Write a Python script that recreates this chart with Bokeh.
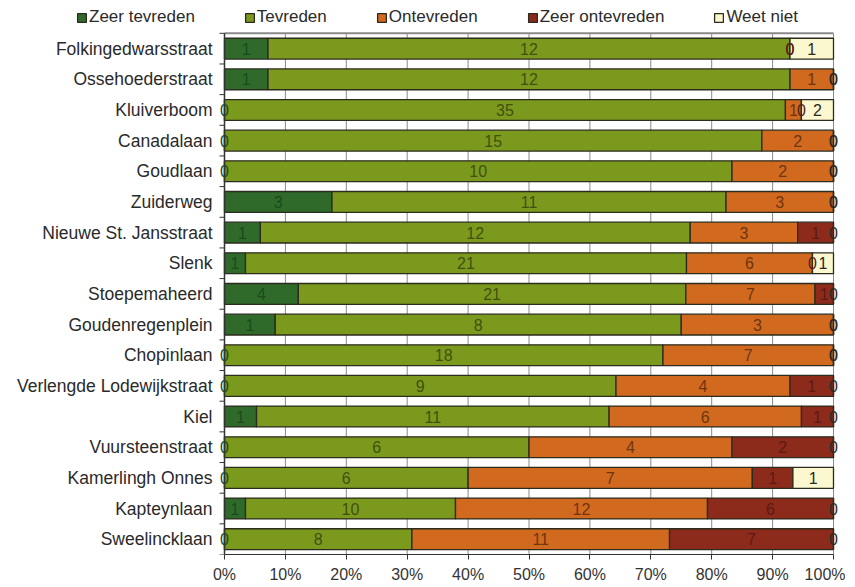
from bokeh.plotting import figure
from bokeh.models import ColumnDataSource, Range1d, FixedTicker, Legend, LegendItem
from bokeh.core.properties import value
from bokeh.embed import file_html
from bokeh.resources import INLINE

streets = ["Folkingedwarsstraat", "Ossehoederstraat", "Kluiverboom", "Canadalaan", "Goudlaan",
           "Zuiderweg", "Nieuwe St. Jansstraat", "Slenk", "Stoepemaheerd", "Goudenregenplein",
           "Chopinlaan", "Verlengde Lodewijkstraat", "Kiel", "Vuursteenstraat", "Kamerlingh Onnes",
           "Kapteynlaan", "Sweelincklaan"]
series = ["Zeer tevreden", "Tevreden", "Ontevreden", "Zeer ontevreden", "Weet niet"]
zeer_tevreden   = [1, 1, 0, 0, 0, 3, 1, 1, 4, 1, 0, 0, 1, 0, 0, 1, 0]
tevreden        = [12, 12, 35, 15, 10, 11, 12, 21, 21, 8, 18, 9, 11, 6, 6, 10, 8]
ontevreden      = [0, 1, 1, 2, 2, 3, 3, 6, 7, 3, 7, 4, 6, 4, 7, 12, 11]
zeer_ontevreden = [0, 0, 0, 0, 0, 0, 1, 0, 1, 0, 0, 1, 1, 2, 1, 6, 7]
weet_niet       = [1, 0, 2, 0, 0, 0, 0, 1, 0, 0, 0, 0, 0, 0, 1, 0, 0]
x_ticks = [0, 10, 20, 30, 40, 50, 60, 70, 80, 90, 100]
x_tick_labels = ["0%", "10%", "20%", "30%", "40%", "50%", "60%", "70%", "80%", "90%", "100%"]

colors = ["#2f6a2b", "#7b9a1d", "#d1691f", "#8c2a1b", "#fbf8cf"]
text_colors = ["#1c4a1a", "#3f5010", "#6e3510", "#5c1a12", "#2a2a22"]
all_counts = [zeer_tevreden, tevreden, ontevreden, zeer_ontevreden, weet_niet]

n = len(streets)
ypos = [n - i - 0.5 for i in range(n)]
totals = [sum(c[i] for c in all_counts) for i in range(n)]

data = {"y": ypos}
for s, c in zip(series, all_counts):
    data[s] = [100.0 * c[i] / totals[i] for i in range(n)]
source = ColumnDataSource(data)

FONT = "Liberation Sans"

# ---- layout in pixels (frame covers the whole width; axis below) ----
W, H, BOTTOM = 845, 585, 28
X0_PX, X100_PX = 224, 833          # where 0% and 100% fall
TOP_PX = 33                        # top of bar area (from top of figure)
sx = (X100_PX - X0_PX) / 100.0     # px per percent
frame_h = H - BOTTOM
sy = (frame_h - TOP_PX) / n        # px per category
x_start = -X0_PX / sx
x_end = 100 + (W - X100_PX) / sx
y_end = n + TOP_PX / sy

p = figure(width=W, height=H, x_range=Range1d(x_start, x_end), y_range=Range1d(0, y_end),
           output_backend="svg", toolbar_location=None, y_axis_type=None,
           min_border_left=0, min_border_right=0, min_border_top=0, min_border_bottom=BOTTOM)
p.outline_line_color = None
p.ygrid.grid_line_color = None
p.xgrid.grid_line_color = None

# vertical grid lines (only over the bar area) and top border line
p.segment(x0=x_ticks, y0=[0] * len(x_ticks), x1=x_ticks, y1=[n] * len(x_ticks),
          line_color="#8a8a8a", line_width=1)
p.segment(x0=[0], y0=[n], x1=[100], y1=[n], line_color="#8a8a8a", line_width=2)

rs = p.hbar_stack(series, y="y", height=0.68, color=colors, source=source,
                  line_color="#2b2b1e", line_width=1.3)

# left axis line at 0% and category boundary ticks
p.segment(x0=[0], y0=[0], x1=[0], y1=[n], line_color="#333333", line_width=1.5)
bnd = list(range(n + 1))
p.segment(x0=[-5 / sx] * len(bnd), y0=bnd, x1=[0] * len(bnd), y1=bnd,
          line_color="#333333", line_width=1)

# category labels
csrc = ColumnDataSource(dict(x=[-12 / sx] * n, y=ypos, t=streets))
p.text(x="x", y="y", text="t", source=csrc, text_align="right", text_baseline="middle",
       text_font=value(FONT), text_font_size="17.5px", text_color="#2a2a2a")

# segment labels
lx, ly, lt, lc = [], [], [], []
for i in range(n):
    left = 0.0
    for k, c in enumerate(all_counts):
        w = 100.0 * c[i] / totals[i]
        lx.append(left + w / 2)
        ly.append(ypos[i])
        lt.append(str(c[i]))
        lc.append(text_colors[k])
        left += w
lsrc = ColumnDataSource(dict(x=lx, y=ly, t=lt, c=lc))
p.text(x="x", y="y", text="t", source=lsrc, text_color="c", text_align="center",
       text_baseline="middle", text_font=value(FONT), text_font_size="16px")

# x axis
p.xaxis.ticker = FixedTicker(ticks=x_ticks)
p.xaxis.bounds = (0, 100)
p.xaxis.major_label_overrides = {t: l for t, l in zip(x_ticks, x_tick_labels)}
p.xaxis.major_label_text_font = FONT
p.xaxis.major_label_text_font_size = "16px"
p.xaxis.major_label_text_color = "#333333"
p.xaxis.major_tick_out = 5
p.xaxis.major_tick_in = 0
p.xaxis.minor_tick_line_color = None
p.xaxis.axis_line_color = "#333333"
p.xaxis.major_tick_line_color = "#333333"
p.xaxis.major_label_standoff = 6

legend = Legend(items=[LegendItem(label=s, renderers=[r]) for s, r in zip(series, rs)],
                orientation="horizontal", location=(76, frame_h - 30),
                label_text_font=FONT, label_text_font_size="17px", label_text_color="#2a2a2a",
                glyph_width=11, glyph_height=11, label_standoff=2, spacing=49,
                padding=0, margin=0, border_line_color=None, background_fill_alpha=0)
p.add_layout(legend, "center")

open("out.html", "w").write(file_html(p, INLINE))
